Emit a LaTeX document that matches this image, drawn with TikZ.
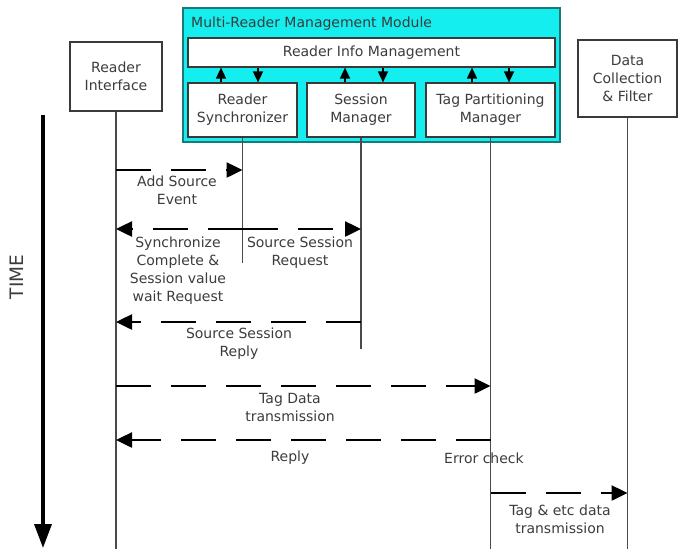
\documentclass[tikz,border=0pt]{standalone}
\usepackage{fontspec}
\setmainfont{DejaVu Sans}
\usetikzlibrary{positioning,arrows.meta,calc}
\definecolor{modcyan}{HTML}{14EEEE}
\definecolor{modedge}{HTML}{1E7878}
\definecolor{boxgray}{HTML}{3A3A3A}
\definecolor{txtgray}{HTML}{3C3C3C}
\definecolor{linegray}{HTML}{4A4A4A}

\begin{document}
\begin{tikzpicture}[
x=1pt,y=-1pt,
box/.style={
  draw=boxgray,
  fill=white,
  line width=1.2pt,
  inner sep=0pt,
  align=center,
  text=txtgray,
  font=\fontsize{14}{18}\selectfont
  },
txt/.style={
  text=txtgray,
  align=center,
  inner sep=0pt,
  font=\fontsize{14}{18}\selectfont
  },
life/.style={
  draw=linegray,
  line width=1.5pt
  },
msg/.style={
  line width=2.5pt,
  dash pattern=on 35pt off 20pt,
  -{Triangle[length=16pt,width=15pt]}
  },
link/.style={
  line width=1.6pt,
  -{Triangle[length=11pt,width=10pt]}
  },
>=Triangle
]
\useasboundingbox (0,0) rectangle (678,550);

% participants
\node[box, minimum width=92, minimum height=69] (ri) at (116,76.5) {Reader\\Interface};
\node[box, minimum width=99, minimum height=77] (dcf) at (627.5,78.5) {Data\\Collection\\\& Filter};

% multi-reader module
\node[draw=modedge, fill=modcyan, line width=2pt, minimum width=377, minimum height=134, inner sep=0pt] (mrm) at (371.5,75) {};
\node[txt, anchor=west] (mrmtitle) at (191,24) {Multi-Reader Management Module};
\node[box, minimum width=367, minimum height=29] (rim) at (371.5,52.5) {Reader Info Management};
\node[box, minimum width=109, minimum height=54] (rs) at (242.5,110) {Reader\\Synchronizer};
\node[box, minimum width=108, minimum height=54] (sm) at (361,110) {Session\\Manager};
\node[box, minimum width=129, minimum height=54] (tpm) at (490.5,110) {Tag Partitioning\\Manager};

\foreach \part/\up/\down in {rs/-21.5/15.5, sm/-16/22, tpm/-18.5/18.5} {
  \draw[link] ([xshift=\up]\part.north) -- ([xshift=\up]\part.north |- rim.south);
  \draw[link] ([xshift=\down]\part.north |- rim.south) -- ([xshift=\down]\part.north);
}

% lifelines
\path (ri.south) ++(0,437) coordinate (riend);
\path (dcf.south) ++(0,431) coordinate (dcfend);
\path (rs.south) ++(0,125) coordinate (rsend);
\path (sm.south) ++(0,211) coordinate (smend);
\path (tpm.south) ++(0,411) coordinate (tpmend);
\foreach \part in {ri,dcf,rs,sm,tpm}
  \draw[life] (\part.south) -- (\part end);

% message points on the lifelines
\foreach \n/\y in {1/170,2/229,3/322,4/386,5/440,6/493} {
  \foreach \part in {ri,rs,sm,tpm,dcf}
    \coordinate (\part\n) at (\part.south |- 0,\y);
}

% messages
\draw[msg] (ri1) -- (rs1);
\node[txt] (addsrc) at (177,190) {Add Source\\Event};
\draw[msg] (rs2) -- (ri2);
\draw[msg] (rs2) -- (sm2);
\node[txt] (synccmp) at (178,270.5) {Synchronize\\Complete \&\\Session value\\wait Request};
\node[txt] (srcreq) at (300,252.5) {Source Session\\Request};
\draw[msg] (sm3) -- (ri3);
\node[txt] (srcrep) at (239,344) {Source Session\\Reply};
\draw[msg] (ri4) -- (tpm4);
\node[txt] (tagdata) at (290,407) {Tag Data\\transmission};
\draw[msg] (tpm5) -- (ri5);
\node[txt] (reply) at (290,458) {Reply};
\node[txt] (errchk) at (484,458) {Error check};
\draw[msg] (tpm6) -- (dcf6);
\node[txt] (tagetc) at (560,519.5) {Tag \& etc data\\transmission};

% time axis
\coordinate (tstart) at (43,115);
\coordinate (tend) at (43,548);
\draw[line width=3.5pt, -{Triangle[length=24pt,width=17pt]}] (tstart) -- (tend);
\node[txt, rotate=90, font=\fontsize{18.5}{20}\selectfont] (time) at (17,277) {TIME};
\end{tikzpicture}
\end{document}
